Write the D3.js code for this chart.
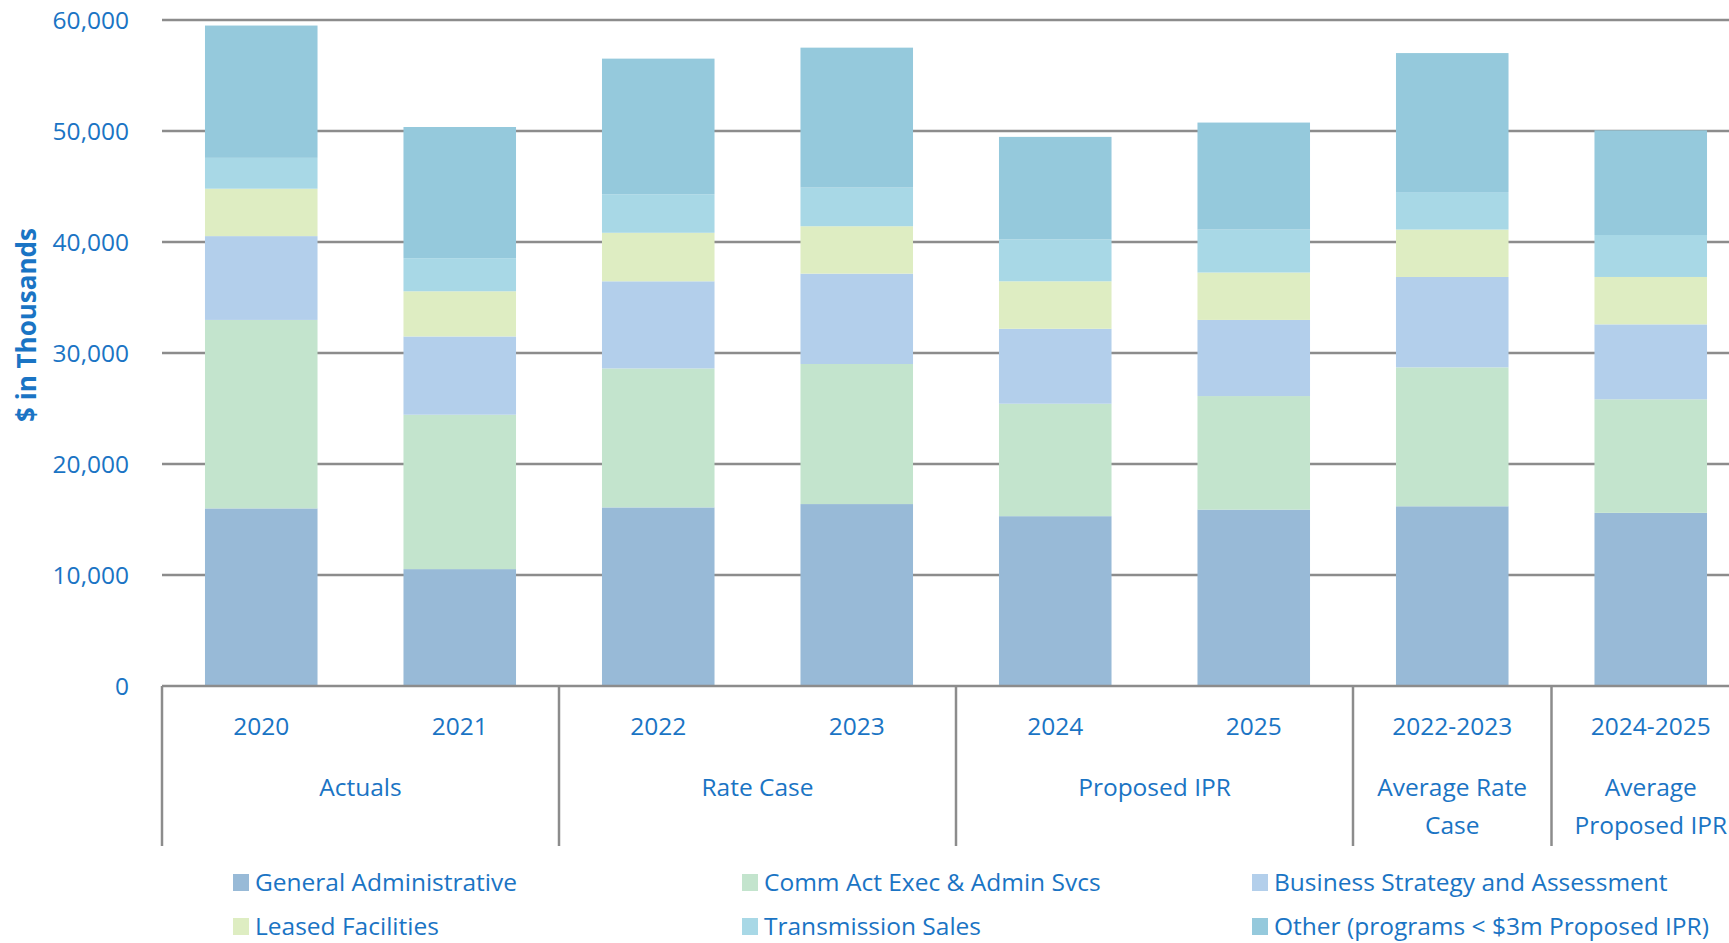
<!DOCTYPE html>
<html>
<head>
<meta charset="utf-8">
<script src="https://cdn.jsdelivr.net/npm/d3@7"></script>
<style>
  html, body { margin: 0; padding: 0; background: #fff; overflow: hidden; }
  text { font-family: "Open Sans", "Noto Sans", sans-serif; fill: #1a74c4; }
</style>
</head>
<body>
<div id="chart"></div>
<script>
// categories on the x axis (bottom level) and the group each one belongs to
const categories = ["2020", "2021", "2022", "2023", "2024", "2025", "2022-2023", "2024-2025"];
const groupLabels = [["Actuals"], ["Rate Case"], ["Proposed IPR"], ["Average Rate", "Case"], ["Average", "Proposed IPR"]];
const groupSpans = [[0, 2], [2, 4], [4, 6], [6, 7], [7, 8]];

// series (bottom to top of each stack)
const seriesNames = [
  "General Administrative",
  "Comm Act Exec & Admin Svcs",
  "Business Strategy and Assessment",
  "Leased Facilities",
  "Transmission Sales",
  "Other (programs < $3m Proposed IPR)"
];
const generalAdmin   = [16000, 10530, 16090, 16390, 15300, 15890, 16190, 15600];
const commAct        = [16980, 13910, 12520, 12620, 10130, 10230, 12520, 10230];
const businessStrat  = [7550, 7050, 7850, 8140, 6750, 6860, 8140, 6750];
const leasedFac      = [4270, 4070, 4370, 4270, 4280, 4270, 4270, 4270];
const transSales     = [2780, 2980, 3470, 3480, 3770, 3870, 3380, 3780];
const other          = [11920, 11820, 12220, 12610, 9240, 9640, 12520, 9430];
const seriesColors = ["#98bad7", "#c3e4cd", "#b3cfeb", "#deedc2", "#a8d8e6", "#95c9dc"];

const yTicks = [0, 10000, 20000, 30000, 40000, 50000, 60000];

// build the rows that d3.stack wants
const seriesValues = [generalAdmin, commAct, businessStrat, leasedFac, transSales, other];
const rows = categories.map((c, i) => {
  let r = {cat: c};
  seriesNames.forEach((s, j) => r[s] = seriesValues[j][i]);
  return r;
});

// sizes
let width = 1729, height = 943;
let margin = {top: 20, left: 162};
let plotBottom = 686;
let step = 198.5;
let plotRight = margin.left + step * categories.length;

let svg = d3.select("#chart").append("svg")
  .attr("width", width)
  .attr("height", height);

// scales
let xScale = d3.scaleBand()
  .domain(categories)
  .range([margin.left, plotRight])
  .paddingInner(0.433)
  .paddingOuter(0.2165);

let yScale = d3.scaleLinear()
  .domain([0, 60000])
  .range([plotBottom, margin.top]);

let color = d3.scaleOrdinal().domain(seriesNames).range(seriesColors);

// gridlines
svg.append("g").attr("class", "grid")
  .selectAll("line")
  .data(yTicks.filter(d => d > 0))
  .join("line")
  .attr("x1", margin.left)
  .attr("x2", plotRight)
  .attr("y1", d => yScale(d))
  .attr("y2", d => yScale(d))
  .attr("stroke", "#8c8c8c")
  .attr("stroke-width", 2.5);

// y axis labels
let yAxis = d3.axisLeft(yScale)
  .tickValues(yTicks)
  .tickFormat(d3.format(","))
  .tickSize(0)
  .tickPadding(33);

svg.append("g")
  .attr("transform", `translate(${margin.left},0)`)
  .call(yAxis)
  .call(g => g.select(".domain").remove())
  .selectAll("text")
  .attr("font-size", 24.5)
  .attr("dy", "0.35em");

// y axis title
svg.append("text")
  .attr("transform", `translate(36,${325}) rotate(-90)`)
  .attr("text-anchor", "middle")
  .attr("font-size", 26)
  .attr("font-weight", "bold")
  .text("$ in Thousands");

// stacked bars
let stacked = d3.stack().keys(seriesNames)(rows);

svg.append("g").attr("class", "bars")
  .selectAll("g")
  .data(stacked)
  .join("g")
  .attr("fill", d => color(d.key))
  .selectAll("rect")
  .data(d => d)
  .join("rect")
  .attr("x", d => xScale(d.data.cat))
  .attr("width", xScale.bandwidth())
  .attr("y", d => yScale(d[1]))
  .attr("height", d => yScale(d[0]) - yScale(d[1]));

// x axis line
svg.append("line")
  .attr("x1", margin.left)
  .attr("x2", plotRight)
  .attr("y1", plotBottom)
  .attr("y2", plotBottom)
  .attr("stroke", "#8c8c8c")
  .attr("stroke-width", 2.5);

// category labels
svg.append("g")
  .selectAll("text")
  .data(categories)
  .join("text")
  .attr("x", d => xScale(d) + xScale.bandwidth() / 2)
  .attr("y", 735)
  .attr("text-anchor", "middle")
  .attr("font-size", 24.5)
  .text(d => d);

// group separators (band boundaries)
let boundaryX = i => margin.left + step * i;
svg.append("g")
  .selectAll("line")
  .data(groupSpans.map(s => s[0]))
  .join("line")
  .attr("x1", d => boundaryX(d))
  .attr("x2", d => boundaryX(d))
  .attr("y1", plotBottom)
  .attr("y2", 846)
  .attr("stroke", "#8c8c8c")
  .attr("stroke-width", 2.5);

// group labels
let gl = svg.append("g")
  .selectAll("text")
  .data(groupLabels)
  .join("text")
  .attr("x", (d, i) => (boundaryX(groupSpans[i][0]) + boundaryX(groupSpans[i][1])) / 2)
  .attr("y", 796)
  .attr("text-anchor", "middle")
  .attr("font-size", 24.5);

gl.selectAll("tspan")
  .data(d => d)
  .join("tspan")
  .attr("x", function() { return d3.select(this.parentNode).attr("x"); })
  .attr("dy", (d, i) => i === 0 ? 0 : 38)
  .text(d => d);

// legend
let legendCols = [233, 742, 1252];
let legendRows = [882, 926];
let legend = svg.append("g").attr("class", "legend")
  .selectAll("g")
  .data(seriesNames)
  .join("g")
  .attr("transform", (d, i) => `translate(${legendCols[i % 3]},${legendRows[Math.floor(i / 3)]})`);

legend.append("rect")
  .attr("x", 0)
  .attr("y", -8)
  .attr("width", 16)
  .attr("height", 17)
  .attr("fill", d => color(d));

legend.append("text")
  .attr("x", 22)
  .attr("y", 0)
  .attr("dy", "0.35em")
  .attr("font-size", 24.5)
  .text(d => d);
</script>
</body>
</html>
